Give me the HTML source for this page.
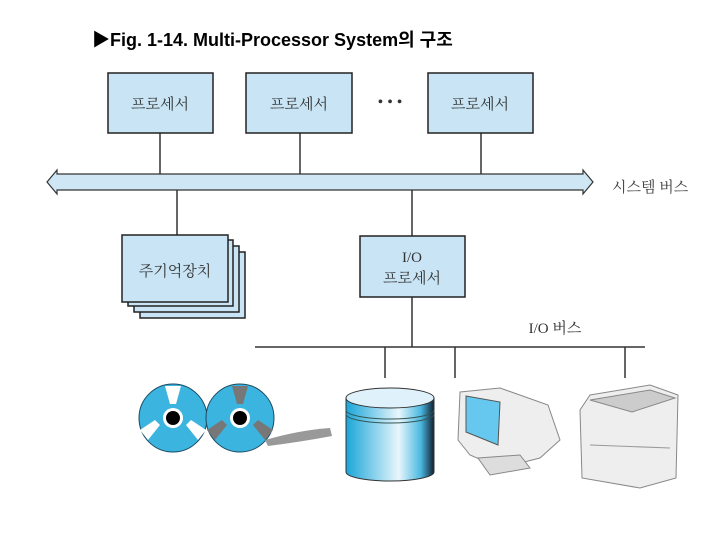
<!DOCTYPE html>
<html><head><meta charset="utf-8"><style>
body{margin:0;background:#fff;width:720px;height:540px;overflow:hidden}
svg text{font-family:"Liberation Serif","Noto Serif CJK SC",serif}
</style></head><body>
<svg width="720" height="540" viewBox="0 0 720 540">
<text x="92" y="46" style="font-family:'Liberation Sans','Noto Sans CJK KR',sans-serif;font-weight:bold" font-size="18">▶Fig. 1-14. Multi-Processor System의 구조</text>
<g stroke="#333" stroke-width="1.5">
<line x1="160" y1="133" x2="160" y2="174"/><line x1="300" y1="133" x2="300" y2="174"/><line x1="481" y1="133" x2="481" y2="174"/>
<line x1="177" y1="190" x2="177" y2="236"/><line x1="412" y1="190" x2="412" y2="347"/>
<line x1="255" y1="347" x2="645" y2="347"/>
<line x1="385" y1="347" x2="385" y2="378"/><line x1="455" y1="347" x2="455" y2="378"/><line x1="625" y1="347" x2="625" y2="378"/>
</g>
<polygon points="47,182 57,170 57,174 583,174 583,170 593,182 583,194 583,190 57,190 57,194" fill="#cfe6f5" stroke="#333" stroke-width="1.2"/>
<text x="612" y="192" font-size="15" fill="#444">시스템 버스</text>
<g fill="#c9e5f5" stroke="#222" stroke-width="1.5">
<rect x="108" y="73" width="105" height="60"/><rect x="246" y="73" width="106" height="60"/><rect x="428" y="73" width="105" height="60"/>
<rect x="140" y="252" width="105" height="66"/><rect x="134" y="246" width="105" height="66"/><rect x="128" y="240" width="105" height="66"/>
<rect x="122" y="235" width="106" height="67"/>
<rect x="360" y="236" width="105" height="61"/>
</g>
<g font-size="15" text-anchor="middle" fill="#333">
<text x="160" y="109">프로세서</text><text x="299" y="109">프로세서</text><text x="480" y="109">프로세서</text>
<text x="390" y="107" font-size="16">• • •</text>
<text x="175" y="276">주기억장치</text>
<text x="412" y="262">I/O</text><text x="412" y="283">프로세서</text>
<text x="555" y="333">I/O 버스</text>
</g>
<defs><linearGradient id="cyl" x1="0" x2="1"><stop offset="0" stop-color="#1aa6d8"/><stop offset=".6" stop-color="#e8f6fc"/><stop offset=".85" stop-color="#4ab8e0"/><stop offset="1" stop-color="#102030"/></linearGradient></defs>
<g>
<circle cx="173" cy="418" r="34" fill="#3bb4e0" stroke="#1c4a60"/><circle cx="240" cy="418" r="34" fill="#3bb4e0" stroke="#1c4a60"/>
<path d="M165,386 L181,386 L176,404 L170,404Z M140,430 L148,440 L160,425 L155,420Z M206,430 L198,440 L186,425 L191,420Z" fill="#fff"/>
<path d="M232,386 L248,386 L243,404 L237,404Z M207,430 L215,440 L227,425 L222,420Z M273,430 L265,440 L253,425 L258,420Z" fill="#777"/>
<circle cx="173" cy="418" r="10" fill="#fff"/><circle cx="173" cy="418" r="7" fill="#000"/>
<circle cx="240" cy="418" r="10" fill="#fff"/><circle cx="240" cy="418" r="7" fill="#000"/>
<path d="M265,440 Q300,430 330,428 L332,436 Q300,442 268,446Z" fill="#999"/>
<path d="M346,398 L346,472 A44,9 0 0 0 434,472 L434,398Z" fill="url(#cyl)" stroke="#333"/>
<ellipse cx="390" cy="398" rx="44" ry="10" fill="#dff2fb" stroke="#333"/>
<path d="M346,410 A44,9 0 0 0 434,410 M346,414 A44,9 0 0 0 434,414" fill="none" stroke="#355"/>
<path d="M460,392 L500,388 L548,405 L560,440 L540,458 L500,468 L470,455 L458,440Z" fill="#eee" stroke="#888"/>
<path d="M466,396 L500,402 L498,445 L466,432Z" fill="#66c8ee" stroke="#555"/>
<path d="M478,458 L520,455 L530,468 L490,475Z" fill="#ddd" stroke="#888"/>
<path d="M590,395 L650,385 L678,395 L676,478 L640,488 L582,478 L580,410Z" fill="#eee" stroke="#888"/>
<path d="M590,400 L650,390 L675,398 L632,412Z" fill="#ccc" stroke="#888"/>
<line x1="590" y1="445" x2="670" y2="448" stroke="#999"/>
</g>
</svg>
</body></html>
